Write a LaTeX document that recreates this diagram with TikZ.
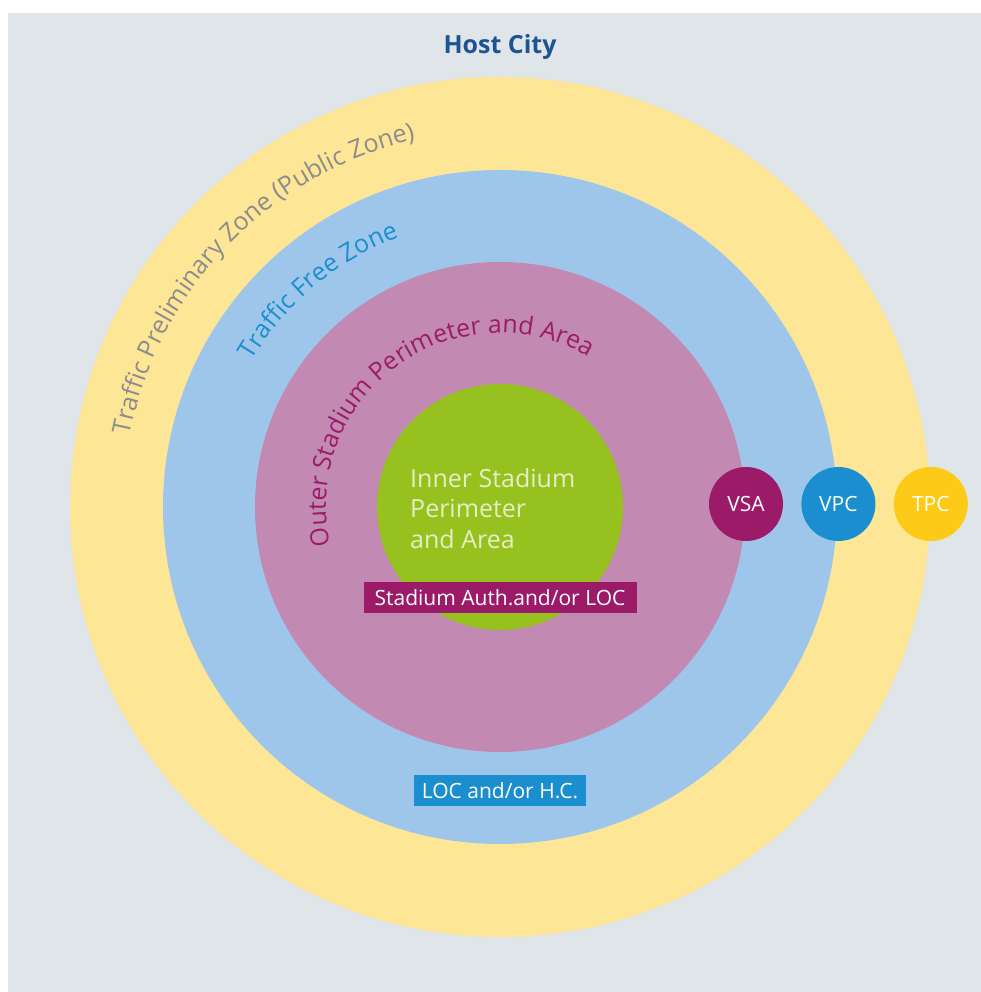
\documentclass[tikz,border=0pt]{standalone}
\usepackage{fontspec}
\setmainfont{Open Sans}
\usepackage{tikz}
\usetikzlibrary{positioning}
\usetikzlibrary{decorations.text}

\definecolor{cityBg}{HTML}{DFE5E8}
\definecolor{prelimYellow}{HTML}{FEE697}
\definecolor{freeBlue}{HTML}{9EC6EA}
\definecolor{outerPink}{HTML}{C28AB3}
\definecolor{innerGreen}{HTML}{97C11F}
\definecolor{vsaPurple}{HTML}{9C1B68}
\definecolor{vpcBlue}{HTML}{1B8ECF}
\definecolor{tpcYellow}{HTML}{FDCA17}
\definecolor{hostBlue}{HTML}{1E5494}
\definecolor{prelimGray}{HTML}{8C8C8C}
\definecolor{innerText}{HTML}{E6EEC6}

\newcommand{\ringfont}{\fontsize{25}{30}\selectfont}
\tikzset{
    badge/.style={circle, minimum size=74pt, inner sep=0pt, text=white,
        font=\fontsize{21}{24}\selectfont},
    tagbox/.style={rectangle, inner sep=0pt, minimum height=31pt, text=white,
        font=\fontsize{21}{24}\selectfont},
    ringlabel/.style 2 args={decorate, decoration={text along path,
        text align=center, text color=#1, text={|\ringfont|#2}}}
}

\begin{document}
\begin{tikzpicture}[x=1pt,y=1pt]
    \useasboundingbox (0,0) rectangle (981,992);
    \fill[white] (0,0) rectangle (981,992);
    \fill[cityBg] (8,0) rectangle (981,979);
    \coordinate (ctr) at (500,485);

    % zones, outermost first
    \fill[prelimYellow] (ctr) circle (430pt);
    \fill[freeBlue] (ctr) circle (337pt);
    \fill[outerPink] (ctr) circle (245pt);
    \fill[innerGreen] (ctr) circle (123pt);

    \node[font=\fontsize{25}{30}\selectfont\bfseries, text=hostBlue] (host) at (500,945) {Host City};

    % curved zone names
    \path[ringlabel={prelimGray}{Traffic Preliminary Zone (Public Zone)}]
        (ctr) ++(196:377pt) arc[start angle=196, end angle=76, radius=377pt];
    \path[ringlabel={vpcBlue}{Traffic Free Zone}]
        (ctr) ++(190:288pt) arc[start angle=190, end angle=70, radius=288pt];
    \path[ringlabel={vsaPurple}{Outer Stadium Perimeter and Area}]
        (ctr) ++(250:174pt) arc[start angle=250, end angle=2, radius=174pt];

    \node[anchor=north west, inner sep=0pt, align=left, text=innerText,
        font=\fontsize{25}{30.5}\selectfont] (inner) at (410,524) {Inner Stadium\\Perimeter\\and Area};

    \node[tagbox, fill=vsaPurple, minimum width=273pt] (stadium) at (500,394) {Stadium Auth.and/or LOC};
    \node[tagbox, fill=vpcBlue, minimum width=172pt] (loc) at (500,201) {LOC and/or H.C.};

    % control points on the zone borders
    \node[badge, fill=vsaPurple] (vsa) at (746,488) {VSA};
    \node[badge, fill=vpcBlue, right=18pt of vsa] (vpc) {VPC};
    \node[badge, fill=tpcYellow, right=18pt of vpc] (tpc) {TPC};
\end{tikzpicture}
\end{document}
